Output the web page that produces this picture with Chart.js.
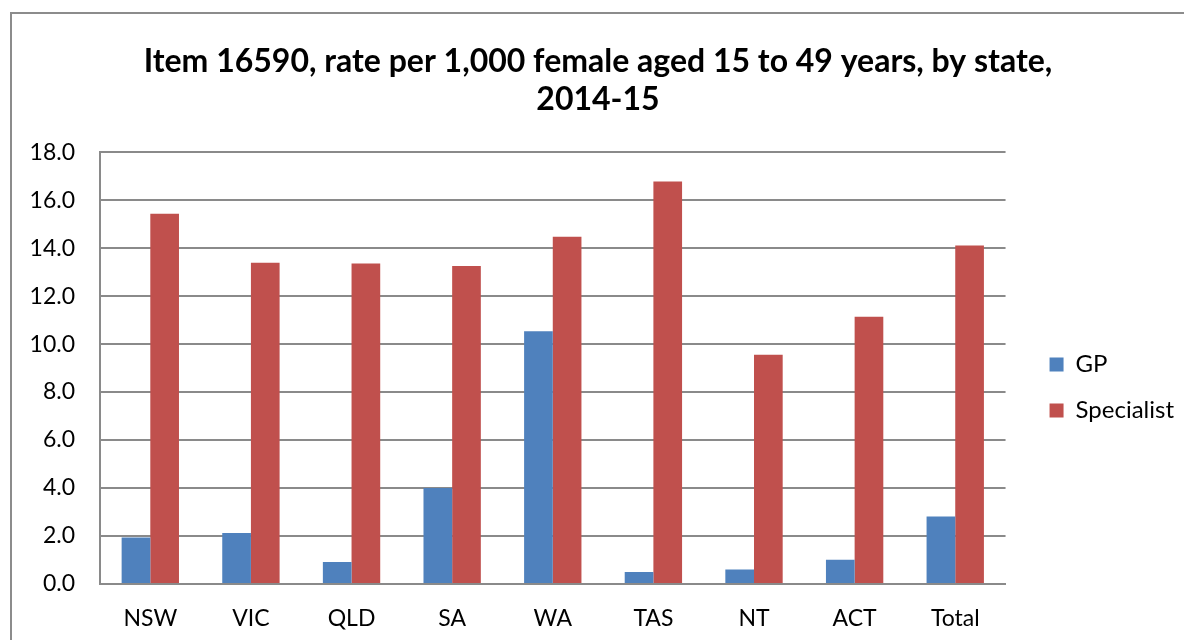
<!DOCTYPE html>
<html>
<head>
<meta charset="utf-8">
<script src="https://cdn.jsdelivr.net/npm/chart.js@4.4.0/dist/chart.umd.min.js"></script>
<style>
  html, body { margin: 0; padding: 0; background: #fff; }
  #frame { position: absolute; left: 10px; top: 12px; width: 1300px; height: 700px;
           border-left: 2px solid #8c8c8c; border-top: 2px solid #8c8c8c; }
  #wrap { position: absolute; left: 0; top: 0; width: 1184px; height: 640px; }
</style>
</head>
<body>
<div id="frame"></div>
<div id="wrap"><canvas id="c" width="1184" height="640"></canvas></div>
<script>
const categories = ["NSW", "VIC", "QLD", "SA", "WA", "TAS", "NT", "ACT", "Total"];
const gpValues = [1.94, 2.13, 0.92, 4.0, 10.54, 0.5, 0.6, 1.01, 2.81];
const specialistValues = [15.43, 13.39, 13.36, 13.25, 14.47, 16.78, 9.56, 11.14, 14.11];
const titleLines = ["Item 16590, rate per 1,000 female aged 15 to 49 years, by state,", "2014-15"];

const FONT = "Lato, 'Open Sans', sans-serif";
const gridColor = "#8a8a8a";

new Chart(document.getElementById('c'), {
  type: 'bar',
  data: {
    labels: categories,
    datasets: [
      { label: 'GP', data: gpValues, backgroundColor: '#4F81BD', yAxisID: 'y' },
      { label: 'Specialist', data: specialistValues, backgroundColor: '#C0504D', yAxisID: 'y' }
    ]
  },
  options: {
    responsive: false,
    animation: false,
    devicePixelRatio: 1,
    layout: { padding: { left: 12, top: 14, right: 0, bottom: 0 } },
    datasets: { bar: { categoryPercentage: 0.57, barPercentage: 1.0 } },
    plugins: {
      title: {
        display: true,
        text: titleLines,
        color: '#000',
        font: { family: FONT, size: 32, weight: 'bold', lineHeight: 1.19 },
        padding: { top: 29, bottom: 33 }
      },
      legend: {
        position: 'right',
        title: { display: true, text: ' ', font: { size: 1 }, padding: { top: 0, bottom: 120 } },
        labels: {
          boxWidth: 14, boxHeight: 14, padding: 22,
          color: '#000',
          font: { family: FONT, size: 24 }
        }
      },
      tooltip: { enabled: false }
    },
    scales: {
      x: {
        grid: { display: false, drawTicks: false },
        border: { display: true, color: gridColor, width: 2 },
        ticks: { color: '#000', font: { family: FONT, size: 23 }, padding: 21 },
        afterFit: s => { s.height = 56; }
      },
      y: {
        min: 0, max: 18,
        ticks: { stepSize: 2, color: '#000', font: { family: FONT, size: 23 }, padding: 25,
                 callback: v => Number(v).toFixed(1) },
        grid: { color: gridColor, lineWidth: 2, drawTicks: false },
        border: { display: true, color: gridColor, width: 2 },
        afterFit: s => { s.width = 88; }
      },
      gap: {
        position: 'right',
        display: true,
        grid: { display: false, drawTicks: false },
        border: { display: false },
        ticks: { display: false },
        afterFit: s => { s.width = 22; }
      }
    }
  }
});
</script>
</body>
</html>
